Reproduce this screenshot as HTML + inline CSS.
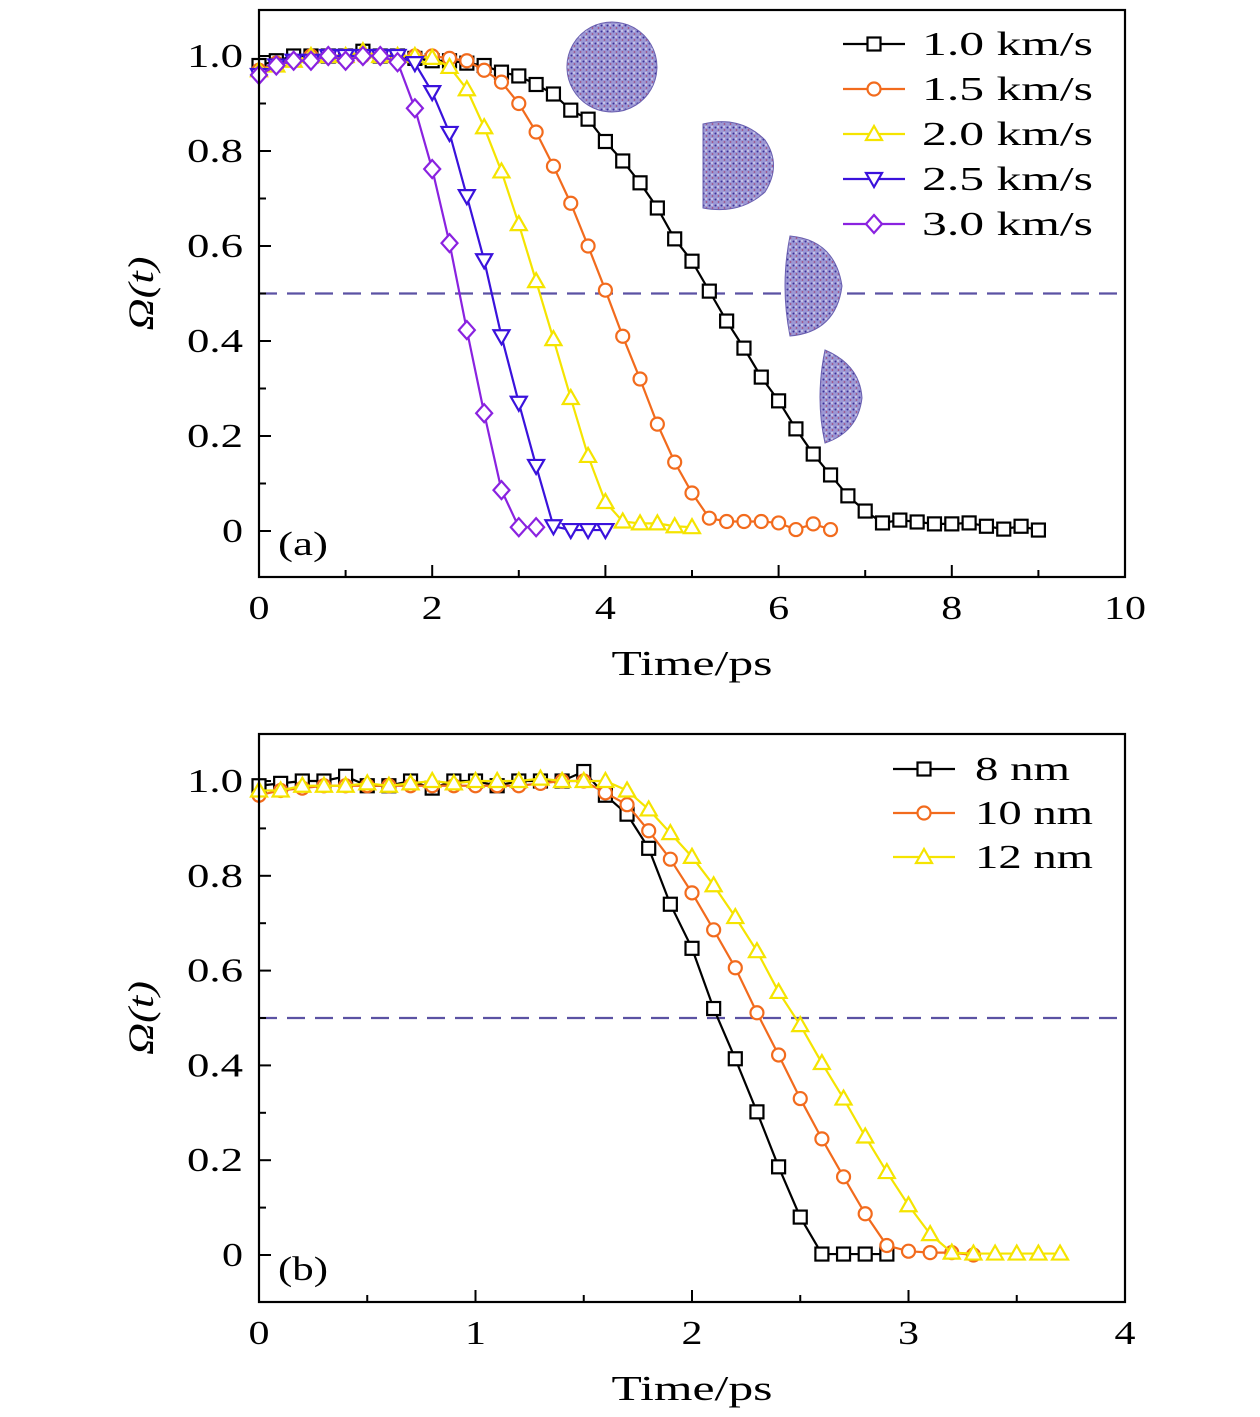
<!DOCTYPE html>
<html><head><meta charset="utf-8"><style>
html,body{margin:0;padding:0;background:#fff;}
svg{display:block;font-family:"Liberation Serif",serif;}
</style></head><body>
<svg id="chart" width="1260" height="1417" viewBox="0 0 1260 1417"></svg>
<script>
// ---- Panel (a) data ----
const aSeriesNames = ["1.0 km/s","1.5 km/s","2.0 km/s","2.5 km/s","3.0 km/s"];
const aTimes1 = [0,0.2,0.4,0.6,0.8,1.0,1.2,1.4,1.6,1.8,2.0,2.2,2.4,2.6,2.8,3.0,3.2,3.4,3.6,3.8,4.0,4.2,4.4,4.6,4.8,5.0,5.2,5.4,5.6,5.8,6.0,6.2,6.4,6.6,6.8,7.0,7.2,7.4,7.6,7.8,8.0,8.2,8.4,8.6,8.8,9.0];
const aVals1 = [0.98,0.99,1.0,1.0,1.0,1.0,1.01,1.0,1.0,0.995,0.99,0.99,0.985,0.98,0.966,0.958,0.94,0.92,0.886,0.867,0.82,0.779,0.733,0.68,0.615,0.568,0.505,0.442,0.385,0.324,0.274,0.215,0.162,0.118,0.074,0.042,0.017,0.023,0.019,0.015,0.015,0.017,0.01,0.004,0.01,0.002];
const aTimes2 = [0,0.2,0.4,0.6,0.8,1.0,1.2,1.4,1.6,1.8,2.0,2.2,2.4,2.6,2.8,3.0,3.2,3.4,3.6,3.8,4.0,4.2,4.4,4.6,4.8,5.0,5.2,5.4,5.6,5.8,6.0,6.2,6.4,6.6];
const aVals2 = [0.97,0.985,0.99,1.0,1.0,1.0,1.0,1.0,1.0,1.0,1.0,0.995,0.99,0.97,0.945,0.90,0.84,0.768,0.69,0.60,0.507,0.41,0.32,0.225,0.145,0.08,0.027,0.02,0.02,0.02,0.017,0.003,0.015,0.003];
const aTimes3 = [0,0.2,0.4,0.6,0.8,1.0,1.2,1.4,1.6,1.8,2.0,2.2,2.4,2.6,2.8,3.0,3.2,3.4,3.6,3.8,4.0,4.2,4.4,4.6,4.8,5.0];
const aVals3 = [0.97,0.98,0.99,1.0,1.0,1.0,1.01,1.0,1.0,1.0,0.996,0.977,0.93,0.85,0.757,0.646,0.526,0.404,0.28,0.158,0.061,0.02,0.016,0.016,0.01,0.008];
const aTimes4 = [0,0.2,0.4,0.6,0.8,1.0,1.2,1.4,1.6,1.8,2.0,2.2,2.4,2.6,2.8,3.0,3.2,3.4,3.6,3.8,4.0];
const aVals4 = [0.96,0.98,0.99,0.99,1.0,1.0,1.0,1.0,1.0,0.985,0.924,0.838,0.705,0.57,0.41,0.27,0.137,0.01,0.002,0.002,0.002];
const aTimes5 = [0,0.2,0.4,0.6,0.8,1.0,1.2,1.4,1.6,1.8,2.0,2.2,2.4,2.6,2.8,3.0,3.2];
const aVals5 = [0.96,0.98,0.99,0.99,1.0,0.99,1.0,1.0,0.987,0.89,0.762,0.606,0.423,0.248,0.086,0.008,0.008];
const aXTicks = [0,2,4,6,8,10];
const aYTicks = [0,0.2,0.4,0.6,0.8,1.0];
// ---- Panel (b) data ----
const bSeriesNames = ["8 nm","10 nm","12 nm"];
const bTimes1 = [0,0.1,0.2,0.3,0.4,0.5,0.6,0.7,0.8,0.9,1.0,1.1,1.2,1.3,1.4,1.5,1.6,1.7,1.8,1.9,2.0,2.1,2.2,2.3,2.4,2.5,2.6,2.7,2.8,2.9];
const bVals1 = [0.99,0.995,1.0,1.0,1.01,0.99,0.99,1.0,0.985,1.0,1.0,0.99,1.0,1.0,1.0,1.02,0.97,0.93,0.858,0.74,0.647,0.52,0.414,0.302,0.186,0.08,0.002,0.002,0.002,0.002];
const bTimes2 = [0,0.1,0.2,0.3,0.4,0.5,0.6,0.7,0.8,0.9,1.0,1.1,1.2,1.3,1.4,1.5,1.6,1.7,1.8,1.9,2.0,2.1,2.2,2.3,2.4,2.5,2.6,2.7,2.8,2.9,3.0,3.1,3.2,3.3];
const bVals2 = [0.97,0.98,0.985,0.99,0.99,0.99,0.99,0.99,0.99,0.99,0.99,0.99,0.99,0.995,1.0,1.0,0.975,0.95,0.895,0.835,0.764,0.686,0.606,0.511,0.422,0.33,0.245,0.165,0.087,0.02,0.008,0.005,0.005,0.0];
const bTimes3 = [0,0.1,0.2,0.3,0.4,0.5,0.6,0.7,0.8,0.9,1.0,1.1,1.2,1.3,1.4,1.5,1.6,1.7,1.8,1.9,2.0,2.1,2.2,2.3,2.4,2.5,2.6,2.7,2.8,2.9,3.0,3.1,3.2,3.3,3.4,3.5,3.6,3.7];
const bVals3 = [0.98,0.98,0.99,0.99,0.99,0.995,0.99,0.995,1.0,0.995,1.0,1.0,1.0,1.005,1.0,1.0,1.0,0.98,0.94,0.89,0.84,0.78,0.713,0.641,0.555,0.485,0.405,0.33,0.25,0.175,0.105,0.044,0.005,0.003,0.003,0.003,0.003,0.003];
const bXTicks = [0,1,2,3,4];
const bYTicks = [0,0.2,0.4,0.6,0.8,1.0];

const NS="http://www.w3.org/2000/svg";
const svg=document.getElementById('chart');
function mk(tag,attrs,parent){const e=document.createElementNS(NS,tag);for(const k in attrs)e.setAttribute(k,attrs[k]);(parent||svg).appendChild(e);return e;}
function fit(t,len){t.setAttribute('textLength',len);t.setAttribute('lengthAdjust','spacingAndGlyphs');}

function panel(P){
  const g=mk('g',{});
  
  
  const sx=v=>P.x0+(v-P.xmin)/(P.xmax-P.xmin)*(P.x1-P.x0);
  const sy=v=>P.y0v-(v)*(P.y0v-P.y1v);
  const dl=mk('line',{x1:P.x0,x2:P.x1,y1:sy(0.5),y2:sy(0.5),stroke:'#5b52a3','stroke-width':2.2,'stroke-dasharray':'18,10'},g);
  
  
  const step=(P.xTicks[1]-P.xTicks[0])/2;
  for(let v=P.xmin;v<=P.xmax+1e-9;v+=step){
    const major=Math.abs((v/(step*2))-Math.round(v/(step*2)))<1e-6;
    mk('line',{x1:sx(v),x2:sx(v),y1:P.bot,y2:P.bot-(major?12:7),stroke:'#000','stroke-width':2},g);
  }
  P.xTicks.forEach(v=>{
    const s=String(v);
    const t=mk('text',{x:sx(v),y:P.bot+42,'font-size':34,'text-anchor':'middle'},g);t.textContent=s;
    fit(t,21*s.length);
    
    
  });
  for(let v=-0.1;v<=1.1;v+=0.1){
    const y=sy(v); if(y<P.top||y>P.bot)continue;
    const major=Math.round(v*10)%2===0;
    mk('line',{x1:P.x0,x2:P.x0+(major?12:7),y1:y,y2:y,stroke:'#000','stroke-width':2},g);
  }
  P.yTicks.forEach(v=>{
    const s=v===0?'0':v.toFixed(1);
    const t=mk('text',{x:P.x0-16,y:sy(v)+11,'font-size':34,'text-anchor':'end'},g);t.textContent=s;
    fit(t,s.length===1?21:56);
    
    
  });
  P.series.forEach((s,i)=>{
    const sg=mk('g',{},g);
    
    
    const pts=s.t.map((t,j)=>[sx(t),sy(s.v[j])]);
    mk('polyline',{points:pts.map(p=>p.join(',')).join(' '),fill:'none',stroke:s.color,'stroke-width':2.2},sg);
    pts.forEach(p=>marker(sg,s.shape,p[0],p[1],s.color));
  });
  const fr=mk('rect',{x:P.x0,y:P.top,width:P.x1-P.x0,height:P.bot-P.top,fill:'none',stroke:'#000','stroke-width':2.2},g);
  
  
  P.series.forEach((s,i)=>{
    const lg=mk('g',{},g);
    
    
    const y=P.legY+i*P.legDy;
    mk('line',{x1:P.legX,x2:P.legX+62,y1:y,y2:y,stroke:s.color,'stroke-width':2.2},lg);
    marker(lg,s.shape,P.legX+31,y,s.color);
    const t=mk('text',{x:P.legTextX,y:y+11,'font-size':34},lg);t.textContent=s.label;
    fit(t,P.legLens[i]);
  });
  const xl=mk('text',{x:(P.x0+P.x1)/2,y:P.bot+98,'font-size':35,'text-anchor':'middle'},g);xl.textContent='Time/ps';
  fit(xl,161);
  
  
  const yc=(P.top+P.bot)/2;
  const yl=mk('text',{x:0,y:0,'font-size':36,'text-anchor':'middle','font-style':'italic',transform:`translate(153,${yc}) rotate(-90)`},g);yl.textContent='Ω(t)';
  fit(yl,74);
  
  
  const pl=mk('text',{x:P.x0+19,y:P.bot-22,'font-size':34},g);pl.textContent=P.tag;
  fit(pl,50);
  
  
}
function marker(g,shape,x,y,c){
  const a={fill:'#fff',stroke:c,'stroke-width':2.2};
  if(shape==='sq')mk('rect',Object.assign({x:x-6.5,y:y-6.5,width:13,height:13},a),g);
  else if(shape==='ci')mk('circle',Object.assign({cx:x,cy:y,r:6.5},a),g);
  else if(shape==='tu')mk('polygon',Object.assign({points:`${x},${y-8} ${x-8},${y+6} ${x+8},${y+6}`},a),g);
  else if(shape==='td')mk('polygon',Object.assign({points:`${x},${y+8} ${x-8},${y-6} ${x+8},${y-6}`},a),g);
  else mk('polygon',Object.assign({points:`${x},${y-9} ${x+8},${y} ${x},${y+9} ${x-8},${y}`},a),g);
}
const cols=['#000000','#f26b1d','#f5e400','#3a12dc','#8a22e0'];
const defs=mk('defs',{});
const pat=mk('pattern',{id:'dots',width:6,height:6,patternUnits:'userSpaceOnUse'},defs);
mk('rect',{width:6,height:6,fill:'#9c98d4'},pat);
mk('circle',{cx:1.5,cy:1.5,r:1,fill:'#3b2f9a'},pat);
mk('circle',{cx:4.5,cy:4,r:0.9,fill:'#a04a7a'},pat);
mk('circle',{cx:4,cy:1,r:0.7,fill:'#ffffff'},pat);
function inset(d,name){const p=mk('path',{d:d,fill:'url(#dots)',stroke:'#6a60b0','stroke-width':1});}
panel({name:'panel-a',tag:'(a)',x0:259,x1:1125,xmin:0,xmax:10,y0v:531,y1v:56,top:10,bot:577,xTicks:aXTicks,yTicks:aYTicks,legX:843,legTextX:922,legLens:[171,171,171,171,171],legY:44,legDy:45,
 series:[{label:aSeriesNames[0],t:aTimes1,v:aVals1,color:cols[0],shape:'sq'},{label:aSeriesNames[1],t:aTimes2,v:aVals2,color:cols[1],shape:'ci'},{label:aSeriesNames[2],t:aTimes3,v:aVals3,color:cols[2],shape:'tu'},{label:aSeriesNames[3],t:aTimes4,v:aVals4,color:cols[3],shape:'td'},{label:aSeriesNames[4],t:aTimes5,v:aVals5,color:cols[4],shape:'di'}]});
inset('M612,22 a45,45 0 1,1 -0.1,0 Z','inset-sphere-1');
inset('M703,124 Q740,115 765,140 Q782,165 765,192 Q740,215 703,208 Z','inset-sphere-2');
inset('M790,236 Q835,240 842,286 Q836,332 790,336 Q780,286 790,236 Z','inset-sphere-3');
inset('M825,350 Q860,365 862,398 Q858,432 825,443 Q815,398 825,350 Z','inset-sphere-4');
panel({name:'panel-b',tag:'(b)',x0:259,x1:1125,xmin:0,xmax:4,y0v:1255,y1v:781,top:734,bot:1302,xTicks:bXTicks,yTicks:bYTicks,legX:893,legTextX:975,legLens:[95,118,118],legY:769,legDy:44,
 series:[{label:bSeriesNames[0],t:bTimes1,v:bVals1,color:cols[0],shape:'sq'},{label:bSeriesNames[1],t:bTimes2,v:bVals2,color:cols[1],shape:'ci'},{label:bSeriesNames[2],t:bTimes3,v:bVals3,color:cols[2],shape:'tu'}]});
</script>
</body></html>
